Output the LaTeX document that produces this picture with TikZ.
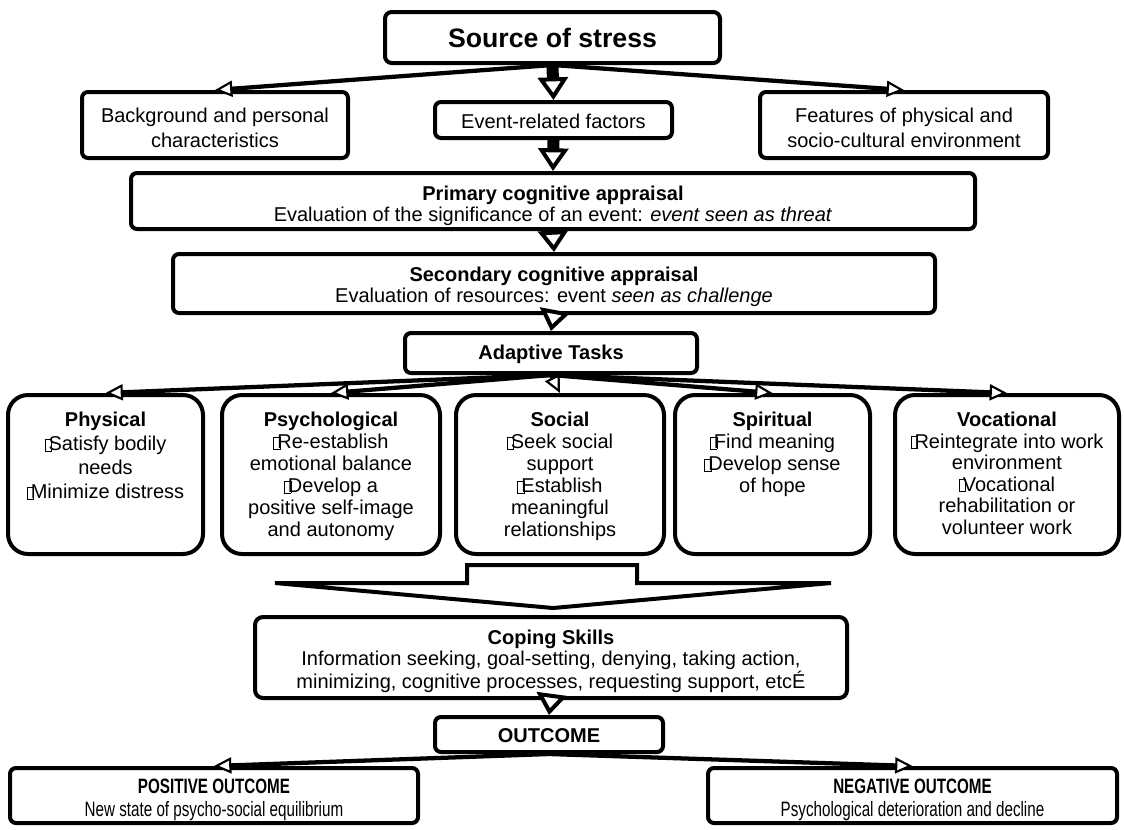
\documentclass[tikz,border=0pt]{standalone}
\usepackage{fontspec}
\setmainfont{Liberation Sans}
\usepackage{graphicx}
\usetikzlibrary{arrows.meta}
\newcommand{\gb}{\makebox[3pt][l]{\setlength{\fboxsep}{0pt}\setlength{\fboxrule}{0.45pt}\fbox{\rule{0pt}{8.5pt}\hspace{4.5pt}}}}
\newcommand{\tb}[2]{\parbox[c][112pt][t]{#1}{\centering\rule{0pt}{20pt}#2}}
\newcommand{\strt}[1]{\rule{0pt}{#1}}
\begin{document}
\begin{tikzpicture}[x=0.75pt,y=-0.75pt,
  box/.style={draw, line width=3pt, rounded corners=4.5pt, inner sep=0pt, align=center, fill=white,
    font=\fontsize{15}{16}\selectfont},
  task/.style={box, rounded corners=15pt, minimum height=119.25pt, font=\fontsize{15}{16.5}\selectfont},
  fat/.style={line width=9pt, -{Triangle[fill=white, length=17pt, width=22.5pt, line width=3pt]}},
  tri/.style={line width=3pt, -{Triangle[fill=white, length=16pt, width=22.5pt, line width=3pt]}},
  thin/.style={line width=3.2pt, -{Triangle[fill=white, length=13pt, width=12pt, line width=1.6pt]}}
]
\fill[white] (0,0) rectangle (1124,829);
\useasboundingbox (0,0) rectangle (1124,829);

% top row
\node[box, rounded corners=5pt, minimum width=251.25pt, minimum height=38.25pt,
  font=\fontsize{20}{24}\selectfont\bfseries] (src) at (552.5,37.5) {Source of stress};
\node[box, minimum width=199.5pt, minimum height=49.5pt, font=\fontsize{15}{18.75}\selectfont]
  (bg) at (215,125) {\strt{15pt}Background and personal\\characteristics};
\node[box, minimum width=177.75pt, minimum height=27pt] (evt) at (553.5,120) {\strt{12.5pt}Event-related factors};
\node[box, minimum width=216pt, minimum height=49.5pt, font=\fontsize{15}{18.75}\selectfont]
  (feat) at (904,125) {\strt{15pt}Features of physical and\\socio-cultural environment};

% appraisals
\node[box, minimum width=633pt, minimum height=42pt] (prim) at (553,201)
  {\strt{18pt}\textbf{Primary cognitive appraisal}\\Evaluation of the significance of an event: \textit{event seen as threat}};
\node[box, minimum width=571.5pt, minimum height=44.25pt] (sec) at (554,283.5)
  {\strt{15.5pt}\textbf{Secondary cognitive appraisal}\\Evaluation of resources: event \textit{seen as challenge}};
\node[box, minimum width=219pt, minimum height=30pt] (adapt) at (551,353) {\strt{12.5pt}\textbf{Adaptive Tasks}};

% tasks
\node[task, minimum width=146.25pt, font=\fontsize{15}{18}\selectfont] (phys) at (105.5,474.5)
  {\tb{142pt}{\textbf{Physical}\\\gb Satisfy bodily\\needs\\\gb Minimize distress}};
\node[task, minimum width=163.5pt] (psych) at (331,474.5)
  {\tb{159pt}{\textbf{Psychological}\\\gb Re-establish\\emotional balance\\\gb Develop a\\positive self-image\\and autonomy}};
\node[task, minimum width=156pt] (soc) at (560,474.5)
  {\tb{152pt}{\textbf{Social}\\\gb Seek social\\support\\\gb Establish\\meaningful\\relationships}};
\node[task, minimum width=146.25pt] (spir) at (772.5,474.5)
  {\tb{142pt}{\textbf{Spiritual}\\\gb Find meaning\\\gb Develop sense\\of hope}};
\node[task, minimum width=168pt, font=\fontsize{15}{16.2}\selectfont] (voc) at (1007,474.5)
  {\tb{164pt}{\textbf{Vocational}\\\gb Reintegrate into work\\environment\\\gb Vocational\\rehabilitation or\\volunteer work}};

% big block arrow
\draw[line width=3pt, fill=white] (467,565) -- (637,565) -- (637,583) -- (831,583) -- (553,608)
  -- (275,583) -- (467,583) -- cycle;

% coping and outcome
\node[box, rounded corners=6pt, minimum width=444pt, minimum height=60.75pt] (cope) at (551,657.5)
  {\strt{16pt}\textbf{Coping Skills}\\Information seeking, goal-setting, denying, taking action,\\minimizing, cognitive processes, requesting support, etcÉ};
\node[box, minimum width=171pt, minimum height=26.25pt] (out) at (549,734.5) {\strt{12pt}\textbf{OUTCOME}};
\node[box, minimum width=306pt, minimum height=41.25pt, font=\fontsize{15}{16.5}\selectfont] (pos) at (214,795.5)
  {\raisebox{-4pt}[\height][\depth]{\scalebox{0.76}[1.04]{\begin{tabular}{@{}c@{}}\textbf{POSITIVE OUTCOME}\\New state of psycho-social equilibrium\end{tabular}}}};
\node[box, minimum width=306.75pt, minimum height=41.25pt, font=\fontsize{15}{16.5}\selectfont] (neg) at (912.5,795.5)
  {\raisebox{-4pt}[\height][\depth]{\scalebox{0.76}[1.04]{\begin{tabular}{@{}c@{}}\textbf{NEGATIVE OUTCOME}\\Psychological deterioration and decline\end{tabular}}}};

% connectors
\draw[thin] (src.south) -- (bg.north);
\draw[thin] (src.south) -- (feat.north);
\draw[fat] (src.south) -- (evt.north);
\draw[fat] (evt.south) -- (prim.north);
\draw[tri] (prim.south) -- (sec.north);
\draw[tri, shorten <=-4pt] (sec.south) -- (adapt.north);
\foreach \t in {phys,psych,soc,spir,voc} \draw[thin] (adapt.south) -- (\t.north);
\draw[tri, shorten <=-4pt] (cope.south) -- (out.north);
\draw[thin] (out.south) -- (pos.north);
\draw[thin] (out.south) -- (neg.north);
\end{tikzpicture}
\end{document}
